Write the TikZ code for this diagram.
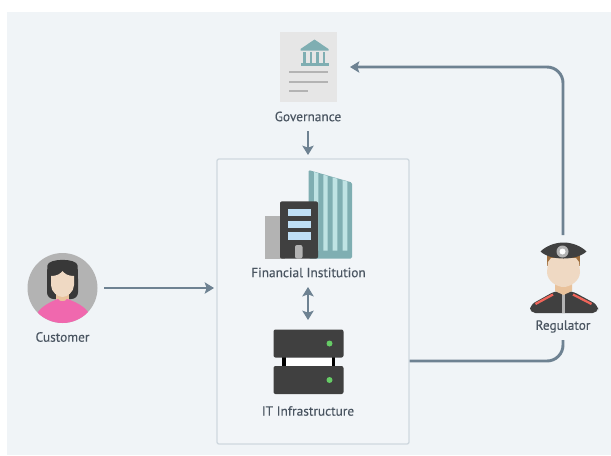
\documentclass[tikz,border=0pt]{standalone}
\usepackage{fontspec}
\setmainfont{PT Sans}
\newfontfamily\labfont{PT Sans}[FakeBold=0.25]
\usetikzlibrary{arrows.meta}
\definecolor{bgc}{HTML}{F0F4F7}
\definecolor{boxfill}{HTML}{F2F5F8}
\definecolor{linec}{HTML}{6E8292}
\definecolor{boxc}{HTML}{CFD8DF}
\definecolor{txtc}{HTML}{4A5561}
\definecolor{teal}{HTML}{7FAEB2}
\definecolor{lteal}{HTML}{BFE3E4}
\definecolor{dark}{HTML}{404040}
\definecolor{midg}{HTML}{B3B3B3}
\definecolor{paper}{HTML}{E6E6E6}
\definecolor{win}{HTML}{BFDFF5}
\definecolor{skin}{HTML}{EFD9C3}
\definecolor{neck}{HTML}{E9C29B}
\definecolor{pinkc}{HTML}{F068AE}
\definecolor{led}{HTML}{66CC66}
\definecolor{hairb}{HTML}{A0703F}
\definecolor{stripe}{HTML}{F0655A}
\tikzset{
  x=0.75pt,y=-0.75pt,
  tipa/.tip={Stealth[length=7pt,width=8.5pt,inset=1.5pt]},
  conn/.style={draw=linec,line width=2.2pt,-tipa,rounded corners=12pt},
  conntwo/.style={conn,tipa-tipa},
  plainline/.style={draw=linec,line width=2.2pt,rounded corners=12pt},
  lab/.style={font=\labfont\fontsize{10pt}{12pt}\selectfont,text=txtc,inner sep=0pt,anchor=center},
}
\begin{document}
\begin{tikzpicture}
\useasboundingbox (0,0) rectangle (611,455);
\fill[white] (0,0) rectangle (611,455);
\fill[bgc] (7,12) rectangle (611,455);
% container
\node[draw=boxc,line width=1pt,fill=boxfill,rounded corners=1.5pt,minimum width=144pt,minimum height=213.75pt,inner sep=0pt] (box) at (313,301.5) {};

% governance icon
\node[fill=paper,minimum width=42.75pt,minimum height=52.5pt,inner sep=0pt] (gov) at (308,67) {};
\fill[teal] (300.5,49) -- (314.5,39.5) -- (328.5,49) -- (328.5,50.5) -- (300.5,50.5) -- cycle;
\foreach \px in {303,309.5,316,322.5}{\fill[teal] (\px,52) rectangle (\px+2.8,63);}
\fill[teal] (301,63) rectangle (328.5,65.5);
\foreach \py/\pw in {72/39,82/39,91/19}{\fill[midg] (289,\py-1.4) rectangle (289+\pw,\py+1.4);}
\node[lab] (govl) at (308,116.5) {Governance};

% building
\fill[teal,rounded corners=1pt] (308.5,170) -- (352,182.5) -- (352,258.5) -- (308.5,258.5) -- cycle;
\fill[lteal] (314,172) -- (318.3,173.2) -- (318.3,250.5) -- (314,250.5) -- cycle;
\fill[lteal] (323.3,174.7) -- (327.7,176) -- (327.7,250.5) -- (323.3,250.5) -- cycle;
\fill[lteal] (332.7,177.4) -- (337.3,178.7) -- (337.3,250.5) -- (332.7,250.5) -- cycle;
\fill[lteal] (342.7,180.2) -- (347.3,181.5) -- (347.3,250.5) -- (342.7,250.5) -- cycle;
\fill[midg] (265,216) rectangle (285,258.5);
\node[fill=dark,rounded corners=1.5pt,minimum width=28.5pt,minimum height=43pt,inner sep=0pt] (fin) at (299,230) {};
\foreach \py in {208.5,220.5,232}{\fill[win] (287.5,\py) rectangle (310.5,\py+7.5);}
\fill[midg,rounded corners=1.5pt] (295,245) rectangle (302.5,258.5);
\node[lab] (finl) at (308.5,272.5) {Financial Institution};

% server
\fill[black] (282,355) rectangle (285.5,368);
\fill[black] (331.5,355) rectangle (334.5,368);
\fill[white] (285.5,358) rectangle (331.5,366);
\node[fill=dark,rounded corners=1.5pt,minimum width=52.5pt,minimum height=21pt,inner sep=0pt] (srva) at (308.5,343.5) {};
\node[fill=dark,rounded corners=1.5pt,minimum width=52.5pt,minimum height=21pt,inner sep=0pt] (srvb) at (308.5,380) {};
\foreach \py in {343.5,380}{
  \fill[black!75] (283,\py-1.2) rectangle (291.5,\py+1.2);
  \fill[black!75] (298,\py-1.2) rectangle (306.5,\py+1.2);
  \fill[led] (329.5,\py) circle[radius=3];
}
\node[lab] (itl) at (308,411) {IT Infrastructure};

% customer
\node[circle,fill=midg,minimum width=52.5pt,inner sep=0pt] (cust) at (62.5,288) {};
\begin{scope}
\clip (62.5,288) circle[radius=35];
\fill[black!78,rounded corners=5pt] (47,299) -- (47,272) .. controls (48,258) and (77,258) .. (78,272) -- (78,299) -- cycle;
\fill[neck] (56,290) rectangle (69,303);
\fill[pinkc] (36,325) -- (38,312) .. controls (42,306) and (52,301) .. (58,299) .. controls (60,302) and (65,302) .. (67,299) .. controls (74,301) and (84,306) .. (88,312) -- (90,325) -- cycle;
\fill[skin] (51,276) .. controls (57,276) and (60,274) .. (62.5,271) .. controls (65,274) and (68,276) .. (74,276) -- (74,285) .. controls (74,292) and (67,297) .. (62.5,297) .. controls (58,297) and (51,292) .. (51,285) -- cycle;
\end{scope}
\node[lab] (custl) at (62.5,337) {Customer};

% regulator
\fill[dark,rounded corners=4pt] (530,313) -- (530,305) -- (555,291) -- (572,291) -- (598,305) -- (598,313) -- cycle;
\fill[midg] (562,293) rectangle (565,313);
\draw[stripe,line width=1.7pt] (535.5,304) -- (553,294.5);
\draw[stripe,line width=1.7pt] (573,294.5) -- (591.5,304);
\fill[neck] (555,280) -- (572,280) -- (572,291) -- (563.5,295) -- (555,291) -- cycle;
\fill[hairb] (547,255) rectangle (580,266);
\fill[skin] (548,262) -- (551,258) -- (576,258) -- (579,262) -- (580,272) .. controls (580,281) and (570,287) .. (563.5,287) .. controls (557,287) and (547,281) .. (547,272) -- cycle;
\fill[dark] (540.5,251.5) .. controls (546,246) and (555,242.5) .. (563.5,242.5) .. controls (572,242.5) and (581,246) .. (586.5,251.5) .. controls (581,256.5) and (572,258.5) .. (563.5,258.5) .. controls (555,258.5) and (546,256.5) .. (540.5,251.5) -- cycle;
\fill[midg] (562.5,251.5) circle[radius=6];
\fill[white] (562.5,251.5) circle[radius=3];
\node[lab] (regl) at (563,326.5) {Regulator};

% connector ends
\coordinate (custout) at (104,288);
\coordinate (boxin) at (214,288);
\coordinate (govout) at (308,131);
\coordinate (govin) at (308,155);
\coordinate (finout) at (308,287);
\coordinate (srvin) at (308,320);
\coordinate (boxout) at (409.5,361);
\coordinate (bend) at (563,361);
\coordinate (regbot) at (563,340);
\coordinate (regtop) at (563,235);
\coordinate (bendb) at (563,67);
\coordinate (govr) at (350,67);
\draw[conn] (custout) -- (boxin);
\draw[conn] (govout) -- (govin);
\draw[conntwo] (finout) -- (srvin);
\draw[plainline] (boxout) -- (bend) -- (regbot);
\draw[conn] (regtop) -- (bendb) -- (govr);
\end{tikzpicture}
\end{document}
